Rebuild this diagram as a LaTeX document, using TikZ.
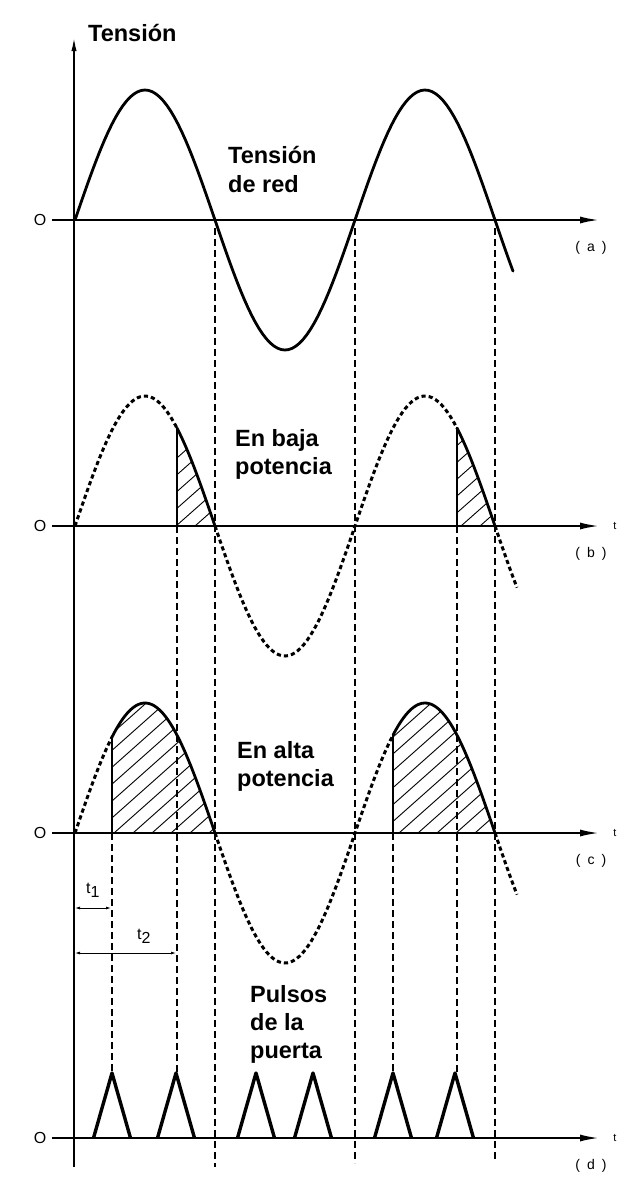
\documentclass[tikz,border=0pt]{standalone}
\usepackage{fontspec}
\setmainfont{Liberation Sans}
\usetikzlibrary{arrows.meta}
\begin{document}
\begin{tikzpicture}[x=1pt,y=-1pt,
  axisline/.style={line width=2.3pt},
  wave/.style={line width=2.8pt,line cap=round,line join=round},
  dwave/.style={line width=3pt,dash pattern=on 4.2pt off 3pt},
  vdash/.style={line width=1.5pt,dash pattern=on 7pt off 4pt},
  hatchline/.style={line width=0.9pt},
  edge/.style={line width=2pt},
  pulse/.style={line width=3.4pt,line join=round},
  big/.style={font=\fontsize{23.5}{28}\selectfont\bfseries,inner sep=0pt},
  small/.style={font=\fontsize{16}{18}\selectfont,inner sep=0pt},
  tiny/.style={font=\fontsize{11}{12}\selectfont,inner sep=0pt},
  dim/.style={line width=0.8pt,{Latex[length=5pt,width=3pt]}-{Latex[length=5pt,width=3pt]}}
]
\useasboundingbox (0,0) rectangle (640,1187);
\fill[white] (0,0) rectangle (640,1187);
% vertical axis
\draw[axisline,-{Latex[length=18pt,width=5pt]}] (74,1167) -- (74,33);
% horizontal axes
\foreach \yy/\lab/\nm in {220/a/A,526/b/B,833/c/C,1138/d/D}{
  \draw[axisline,-{Latex[length=20pt,width=7pt]}] (52,\yy) -- (600,\yy);
  \node[small] (zero\nm) at (40,\yy) {O};
  \node[font=\fontsize{14}{16}\selectfont,inner sep=0pt] (lab\nm) at (591,\yy+28) {(\hspace{7pt}\lab\hspace{7pt})};
}
\foreach \yy/\nm in {526/B,833/C,1138/D}{
  \node[tiny] (t\nm) at (615,\yy) {t};
}
% (a) mains voltage
\draw[wave] plot[domain=75:513,samples=120] (\x,{220-130*sin((\x-75)*1.2857143)});
% (b) low power
\draw[dwave] plot[domain=75:177,samples=40] (\x,{526-130*sin((\x-75)*1.2857143)});
\draw[dwave] plot[domain=215:457,samples=80] (\x,{526-130*sin((\x-75)*1.2857143)});
\draw[dwave] plot[domain=495:517,samples=10] (\x,{526-130*sin((\x-75)*1.2857143)});
\foreach \a/\b in {177/215,457/495}{
  \begin{scope}
    \clip (\a,526) -- plot[domain=\a:\b,samples=30] (\x,{526-130*sin((\x-75)*1.2857143)}) -- cycle;
    \foreach \s in {100,119,...,520} \draw[hatchline] (\s,526) -- ++(130,-115);
  \end{scope}
  \draw[wave] plot[domain=\a:\b,samples=30] (\x,{526-130*sin((\x-75)*1.2857143)});
  \draw[edge] (\a,526) -- (\a,{526-130*sin((\a-75)*1.2857143)});
}
% (c) high power
\draw[dwave] plot[domain=75:112,samples=20] (\x,{833-130*sin((\x-75)*1.2857143)});
\draw[dwave] plot[domain=215:393,samples=60] (\x,{833-130*sin((\x-75)*1.2857143)});
\draw[dwave] plot[domain=495:517,samples=10] (\x,{833-130*sin((\x-75)*1.2857143)});
\foreach \a/\b in {112/215,393/495}{
  \begin{scope}
    \clip (\a,833) -- plot[domain=\a:\b,samples=40] (\x,{833-130*sin((\x-75)*1.2857143)}) -- cycle;
    \foreach \s in {0,19,...,520} \draw[hatchline] (\s,833) -- ++(180,-160);
  \end{scope}
  \draw[wave] plot[domain=\a:\b,samples=40] (\x,{833-130*sin((\x-75)*1.2857143)});
  \draw[edge] (\a,833) -- (\a,{833-130*sin((\a-75)*1.2857143)});
}
% vertical dashed lines
\draw[vdash] (215,228) -- (215,1167);
\draw[vdash] (355,228) -- (355,1163);
\draw[vdash] (495,228) -- (495,1160);
\foreach \xx in {177,457} \draw[vdash] (\xx,526) -- (\xx,1073);
\foreach \xx in {112,393} \draw[vdash] (\xx,833) -- (\xx,1073);
% (d) gate pulses
\foreach \p in {112,176,256,313,393,455}{
  \draw[pulse] (\p-18.5,1138) -- (\p,1073) -- (\p+18.5,1138);
}
% t1, t2
\draw[dim] (75,908) -- (111,908);
\draw[dim] (75,953) -- (176,953);
\node[small,anchor=base west] (tone) at (86,893) {t\raisebox{-4pt}{1}};
\node[small,anchor=base west] (ttwo) at (137,939) {t\raisebox{-4pt}{2}};
% labels
\node[big,anchor=base west] (l0) at (88,41) {Tensión};
\node[big,anchor=base west] (l1a) at (228,163) {Tensión};
\node[big,anchor=base west] (l1b) at (228,192) {de red};
\node[big,anchor=base west] (l2a) at (235,446) {En baja};
\node[big,anchor=base west] (l2b) at (235,474) {potencia};
\node[big,anchor=base west] (l3a) at (237,758) {En alta};
\node[big,anchor=base west] (l3b) at (237,786) {potencia};
\node[big,anchor=base west] (l4a) at (250,1002) {Pulsos};
\node[big,anchor=base west] (l4b) at (250,1030) {de la};
\node[big,anchor=base west] (l4c) at (250,1058) {puerta};
\end{tikzpicture}
\end{document}
